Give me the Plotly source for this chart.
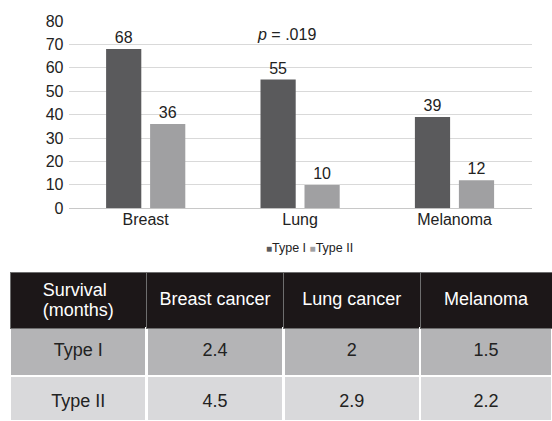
import plotly.graph_objects as go

# ---- data ----
categories = ["Breast", "Lung", "Melanoma"]
type1_values = [68, 55, 39]
type2_values = [36, 10, 12]
series_names = ["Type I", "Type II"]
y_ticks = [0, 10, 20, 30, 40, 50, 60, 70, 80]
p_label = "<i>p</i> = .019"

table_header = ["Survival<br>(months)", "Breast cancer", "Lung cancer", "Melanoma"]
table_rows = ["Type I", "Type II"]
survival_breast = ["2.4", "4.5"]
survival_lung = ["2", "2.9"]
survival_melanoma = ["1.5", "2.2"]

W, H = 552, 421
FONT = "Liberation Sans, Arial, Helvetica, sans-serif"
C1 = "#5a5a5c"
C2 = "#a0a0a2"
TXT = "#222222"
FS = 16

fig = go.Figure()
fig.add_trace(go.Bar(
    x=categories, y=type1_values, name=series_names[0],
    marker=dict(color=C1, line=dict(width=0)),
    text=[str(v) for v in type1_values], textposition="outside",
    textfont=dict(size=FS, color=TXT, family=FONT), cliponaxis=False,
    showlegend=False,
))
fig.add_trace(go.Bar(
    x=categories, y=type2_values, name=series_names[1],
    marker=dict(color=C2, line=dict(width=0)),
    text=[str(v) for v in type2_values], textposition="outside",
    textfont=dict(size=FS, color=TXT, family=FONT), cliponaxis=False,
    showlegend=False,
))

px0, px1 = 68.5 / W, 531.7 / W
py_top, py_bot = 1 - 21 / H, 1 - 208.3 / H

fig.update_layout(
    width=W, height=H,
    margin=dict(l=0, r=0, t=0, b=0, pad=0),
    paper_bgcolor="white", plot_bgcolor="white",
    font=dict(family=FONT, color=TXT, size=FS),
    barmode="group", bargap=0.43, bargroupgap=0.2,
    xaxis=dict(domain=[px0, px1], showgrid=False, showline=False, ticks="",
               automargin=False,
               tickfont=dict(size=FS, color=TXT), fixedrange=True),
    yaxis=dict(domain=[py_bot, py_top], range=[0, 80], tickvals=y_ticks,
               automargin=False,
               showgrid=True, gridcolor="#d9d9d9", gridwidth=1,
               zeroline=True, zerolinecolor="#c8c8c8", zerolinewidth=1,
               showline=False, ticks="", ticklabelstandoff=4,
               tickfont=dict(size=FS, color=TXT), fixedrange=True),
)

# p-value annotation
fig.add_annotation(x=286 / W, y=1 - 34 / H, xref="paper", yref="paper",
                   xanchor="center", yanchor="middle",
                   text=p_label, showarrow=False,
                   font=dict(size=FS, color=TXT, family=FONT))

# legend (small square markers like the original)
legend_text = (f'<span style="color:{C1};font-size:10px">■</span>{series_names[0]} '
               f'<span style="color:{C2};font-size:10px">■</span>{series_names[1]}')
fig.add_annotation(x=309 / W, y=1 - 248 / H, xref="paper", yref="paper",
                   xanchor="center", yanchor="middle",
                   text=legend_text, showarrow=False,
                   font=dict(size=12.5, color=TXT, family=FONT))

# table: visible text is 18px; a pair of invisible no-break spaces of a
# larger size pushes the text down so it sits centred in the row.
# trailing <br> keeps plotly from word-wrapping the markup.
def sized(v, pad):
    if "<br>" in v:
        return "<br>".join(f'<span style="font-size:18px">{p}</span>' for p in v.split("<br>"))
    sp = f'<span style="font-size:{pad}px">\u00a0</span>'
    return f'{sp}<span style="font-size:18px">{v}</span>{sp}<br>'

ROW_PAD = [22.5, 25.9]
row_fill = ["#b4b4b6", "#d9d9db"]
cell_cols = [table_rows, survival_breast, survival_lung, survival_melanoma]
fig.add_trace(go.Table(
    domain=dict(x=[10 / W, 1], y=[0, 1 - 272 / H]),
    columnwidth=[136.7, 136.7, 136.7, 132],
    header=dict(values=[sized(v, 28.1) for v in table_header], fill_color="#1c1718",
                line=dict(color="#6e6e6e", width=1),
                font=dict(color="white", size=[15.4, 18, 18, 18], family=FONT),
                align="center", height=50),
    cells=dict(values=[[sized(v, ROW_PAD[i]) for i, v in enumerate(col)] for col in cell_cols],
               fill=dict(color=[row_fill] * 4),
               line=dict(color="white", width=2.5),
               font=dict(color=TXT, size=18, family=FONT),
               align="center", height=48),
))

fig.write_html("out.html",
               config={"displayModeBar": False},
               post_script="document.body.style.margin='0';"
                           "document.body.style.overflow='hidden';")
